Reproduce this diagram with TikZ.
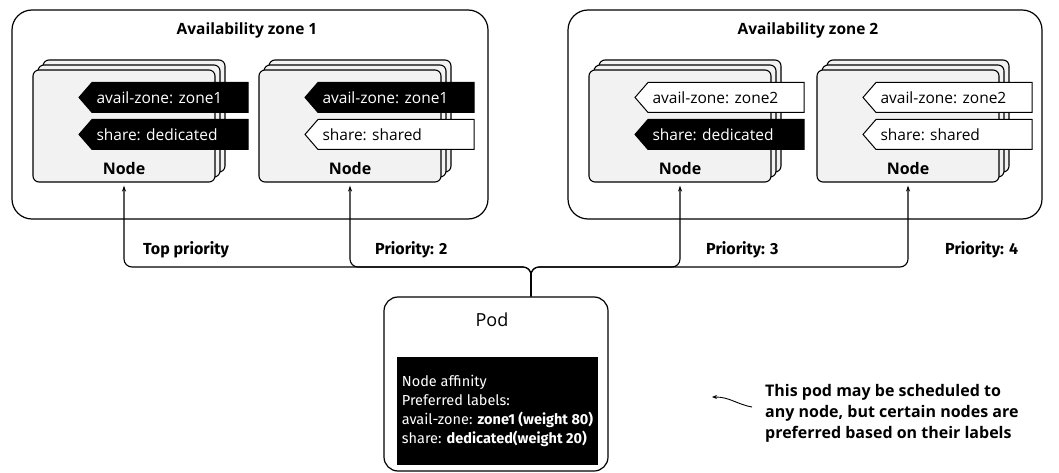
\documentclass[tikz,border=0pt]{standalone}
\usepackage{fontspec}
\setmainfont{Open Sans}
\newfontfamily\boxfont{Fira Sans}
\usetikzlibrary{positioning,arrows.meta,shadows,calc}

\tikzset{
  zone/.style={draw, line width=1.2pt, rounded corners=20pt, minimum width=476pt, minimum height=209pt},
  zonetitle/.style={font=\fontsize{15.5}{17}\selectfont\bfseries},
  card/.style={draw, line width=1.1pt, fill=gray!10, rounded corners=6pt, minimum width=182pt, minimum height=112pt,
    double copy shadow={shadow xshift=5pt, shadow yshift=5pt, draw=black, fill=gray!10, line width=1.1pt}},
  cardname/.style={font=\fontsize{16}{18}\selectfont\bfseries},
  darktag/.style={draw=black, fill=black, text=white, line width=1pt},
  lighttag/.style={draw=black, fill=white, text=black, line width=1pt},
  link/.style={line width=1.1pt, rounded corners=8pt, -{Stealth[length=6pt, width=4pt]}, shorten >=3pt},
  prio/.style={anchor=west, inner sep=0pt, font=\boxfont\fontsize{16}{18}\selectfont\bfseries},
  podbox/.style={draw, line width=1.2pt, rounded corners=14pt, minimum width=224pt, minimum height=174pt},
  affinity/.style={fill=black, text=white, minimum width=201pt, minimum height=108pt, align=left,
    font=\boxfont\fontsize{14.5}{19}\selectfont},
  note/.style={anchor=west, inner sep=0pt, align=left, font=\fontsize{16}{21}\selectfont\bfseries},
}

\newcommand{\labeltag}[4]{%
  \coordinate (#1-tip) at (#2);
  \draw[#3] (#1-tip) -- ++(13,-15) -- ++(156,0) -- ++(0,30) -- ++(-156,0) -- cycle;
  \node[#3, draw=none, fill=none, anchor=west, inner sep=0pt, font=\fontsize{15.5}{17}\selectfont] (#1) at ($(#1-tip)+(17,0)$) {#4};
}

\begin{document}
\begin{tikzpicture}[x=1pt, y=-1pt]
\useasboundingbox (0,0) rectangle (1059,473);

% availability zones
\node[zone] (zone1) at (250,114.5) {};
\node[zone, minimum width=474pt] (zone2) at (805,114.5) {};
\node[zonetitle] (title1) at (247,30) {Availability zone 1};
\node[zonetitle] (title2) at (808,30) {Availability zone 2};

% nodes and their labels
\foreach \n/\x/\zs/\ss/\zn/\sh in {c11/124/darktag/darktag/1/dedicated, c12/350/darktag/lighttag/1/shared,
    c21/680/lighttag/darktag/2/dedicated, c22/908/lighttag/lighttag/2/shared} {
  \node[card] (\n) at (\x,126) {};
  \node[cardname] (\n-name) at ($(\n.south)+(0,-14)$) {Node};
  \labeltag{\n-zone}{$(\n.north)+(-45,28)$}{\zs}{avail-zone: zone\zn}
  \labeltag{\n-share}{$(\n.north)+(-45,65)$}{\ss}{share: \sh}
}

% pod
\node[podbox] (pod) at (496,384) {};
\node[font=\fontsize{18}{20}\selectfont] (podname) at (492,320) {Pod};
\node[affinity] (aff) at (497.5,411) {Node affinity\\Preferred labels:\\avail-zone: \textbf{zone1 (weight 80)}\\share: \textbf{dedicated(weight 20)}};

% scheduling preferences
\coordinate (stem) at ($(pod.north)+(35,0)$);
\coordinate (bus) at (0,267);
\foreach \n in {c11,c12,c21,c22}
  \draw[link] (stem) -- (stem|-bus) -| (\n.south);
\node[prio] (p1) at (143,250) {Top priority};
\node[prio] (p2) at (375,250) {Priority: 2};
\node[prio] (p3) at (706,250) {Priority: 3};
\node[prio] (p4) at (945,250) {Priority: 4};

% note
\node[note] (note) at (765,413) {This pod may be scheduled to\\any node, but certain nodes are\\preferred based on their labels};
\coordinate (hint) at (712,397);
\draw[line width=0.9pt, -{Stealth[length=5pt, width=4pt]}] ($(note.west)+(-13,-6)$) .. controls (736,404) and (730,397) .. (hint);
\end{tikzpicture}
\end{document}
